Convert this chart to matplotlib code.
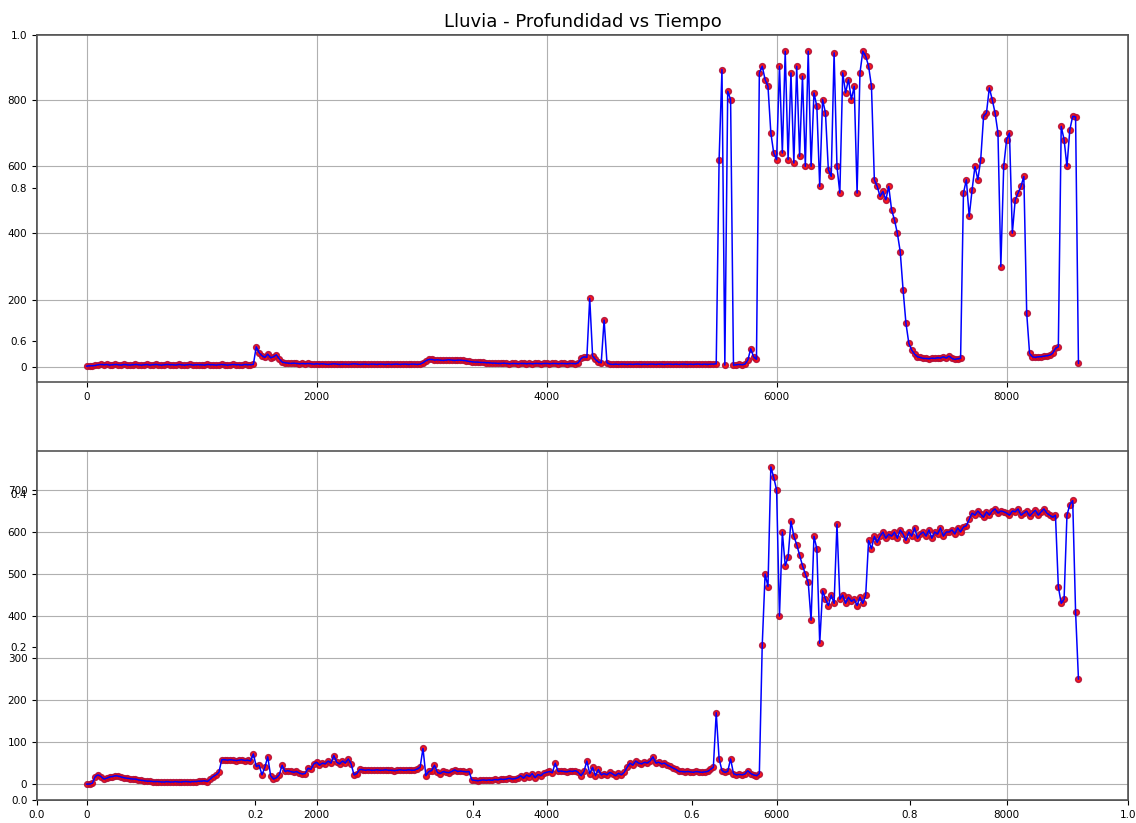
import matplotlib
matplotlib.use('Agg')
import matplotlib.pyplot as plt
import numpy as np

# Datos (muestreo cada 25 unidades de tiempo)
paso = 25

# Serie superior: profundidad (0 .. 8625)
prof_sup = [
    2, 3, 3, 4, 6, 7, 6, 7, 5, 6, 7, 6, 5, 7, 6, 5, 6, 7, 6, 5,
    6, 7, 5, 6, 7, 6, 5, 6, 7, 6, 6, 5, 7, 6, 5, 6, 7, 5, 6, 6,
    6, 5, 7, 6, 6, 5, 6, 7, 6, 5, 6, 7, 6, 6, 5, 7, 6, 6, 7, 60,
    42, 33, 28, 38, 27, 30, 36, 24, 14, 12, 11, 10, 11, 10, 9, 10, 9, 10, 9, 8,
    9, 8, 9, 8, 7, 8, 9, 8, 7, 8, 8, 7, 8, 9, 8, 7, 8, 8, 7, 8,
    8, 7, 8, 8, 7, 8, 7, 8, 8, 7, 8, 8, 7, 8, 8, 7, 8, 12, 18, 22,
    22, 20, 21, 20, 19, 20, 21, 20, 19, 20, 20, 19, 18, 16, 15, 14, 14, 13, 13, 12,
    12, 11, 11, 10, 10, 11, 10, 9, 10, 10, 9, 10, 10, 9, 10, 9, 10, 10, 9, 10,
    10, 9, 10, 10, 9, 10, 10, 9, 10, 10, 9, 12, 25, 30, 28, 205, 32, 22, 14, 12,
    140, 12, 8, 7, 8, 7, 8, 8, 7, 8, 7, 8, 8, 7, 8, 7, 8, 8, 7, 8,
    8, 7, 8, 8, 7, 8, 7, 8, 8, 7, 8, 7, 8, 8, 7, 8, 7, 8, 8, 9,
    620, 890, 5, 825, 800, 5, 6, 7, 6, 8, 20, 54, 30, 22, 880, 900, 860, 840, 700, 640,
    620, 900, 640, 945, 620, 880, 610, 900, 630, 870, 600, 945, 600, 820, 780, 540, 800, 760, 590, 570,
    940, 600, 520, 880, 820, 860, 800, 840, 520, 880, 945, 930, 900, 840, 560, 540, 510, 525, 500, 540,
    470, 440, 400, 345, 230, 130, 70, 50, 38, 30, 28, 25, 25, 24, 26, 25, 27, 26, 30, 26,
    32, 25, 22, 24, 25, 520, 560, 450, 530, 600, 560, 620, 750, 760, 835, 800, 760, 700, 300, 600,
    680, 700, 400, 500, 520, 540, 570, 160, 40, 30, 28, 30, 30, 32, 33, 35, 40, 55, 60, 720,
    680, 600, 710, 750, 748, 10,
]

# Serie inferior: profundidad (0 .. 8625)
prof_inf = [
    0, 0, 2, 18, 22, 18, 12, 14, 17, 18, 20, 19, 17, 15, 14, 13, 12, 12, 10, 9,
    8, 7, 7, 6, 6, 6, 5, 5, 6, 5, 5, 6, 5, 5, 6, 6, 5, 6, 6, 7,
    7, 8, 6, 12, 18, 22, 28, 58, 58, 57, 58, 57, 56, 57, 58, 56, 57, 55, 72, 42,
    45, 22, 40, 65, 20, 12, 15, 22, 45, 30, 32, 30, 28, 30, 26, 24, 25, 38, 35, 48,
    52, 45, 50, 48, 55, 50, 68, 52, 48, 55, 50, 60, 48, 22, 25, 35, 34, 33, 34, 33,
    33, 34, 33, 33, 34, 33, 33, 32, 33, 34, 33, 33, 34, 33, 33, 36, 40, 85, 20, 30,
    32, 45, 28, 25, 30, 28, 27, 30, 34, 30, 31, 30, 29, 30, 10, 9, 8, 9, 10, 9,
    10, 9, 11, 10, 12, 11, 12, 14, 12, 13, 15, 20, 14, 22, 18, 25, 15, 23, 20, 26,
    28, 30, 27, 50, 30, 31, 30, 29, 31, 30, 32, 28, 20, 30, 55, 25, 40, 20, 35, 22,
    25, 22, 28, 24, 20, 26, 22, 28, 40, 50, 45, 55, 50, 48, 52, 50, 55, 65, 50, 52,
    48, 50, 45, 42, 38, 35, 30, 30, 29, 30, 29, 28, 30, 29, 28, 29, 30, 35, 40, 170,
    60, 32, 28, 30, 60, 25, 22, 23, 22, 24, 32, 25, 22, 20, 25, 330, 500, 470, 755, 730,
    700, 400, 600, 520, 540, 626, 590, 570, 545, 520, 500, 480, 390, 590, 560, 335, 460, 440, 425, 450,
    430, 619, 440, 450, 430, 445, 435, 440, 425, 445, 430, 450, 580, 560, 590, 575, 590, 600, 585, 595,
    590, 600, 585, 605, 595, 580, 600, 590, 610, 585, 595, 600, 590, 605, 585, 600, 595, 610, 590, 600,
    600, 605, 595, 610, 600, 612, 615, 630, 645, 640, 650, 642, 635, 648, 640, 650, 655, 645, 650, 648,
    645, 640, 650, 648, 655, 640, 645, 650, 638, 645, 652, 640, 648, 655, 645, 640, 635, 640, 470, 430,
    440, 640, 665, 675, 410, 250,
]

tiempo = np.arange(len(prof_sup)) * paso

fig = plt.figure(figsize=(11.36, 8.23), dpi=100)

# ejes de fondo (0-1) con el titulo
ax_fondo = fig.add_axes([0.0326, 0.028, 0.9604, 0.929])
ax_fondo.set_title('Lluvia - Profundidad vs Tiempo', fontsize=13)
ax_fondo.tick_params(labelsize=7.5)

ax1 = fig.add_axes([0.0326, 0.536, 0.9604, 0.421])
ax2 = fig.add_axes([0.0326, 0.028, 0.9604, 0.424])

for ax, prof in ((ax1, prof_sup), (ax2, prof_inf)):
    ax.plot(tiempo, prof, 'o', mfc='red', mec='#b0103a', ms=4.2, alpha=0.9)
    ax.plot(tiempo, prof, '-', color='blue', lw=1.1)
    ax.grid(True, color='#b0b0b0', lw=0.8)
    ax.tick_params(labelsize=7.5)

for ax in (ax_fondo, ax1, ax2):
    for s in ax.spines.values():
        s.set_color('#555555')
        s.set_linewidth(1.2)

plt.savefig('out.png', dpi=100)
